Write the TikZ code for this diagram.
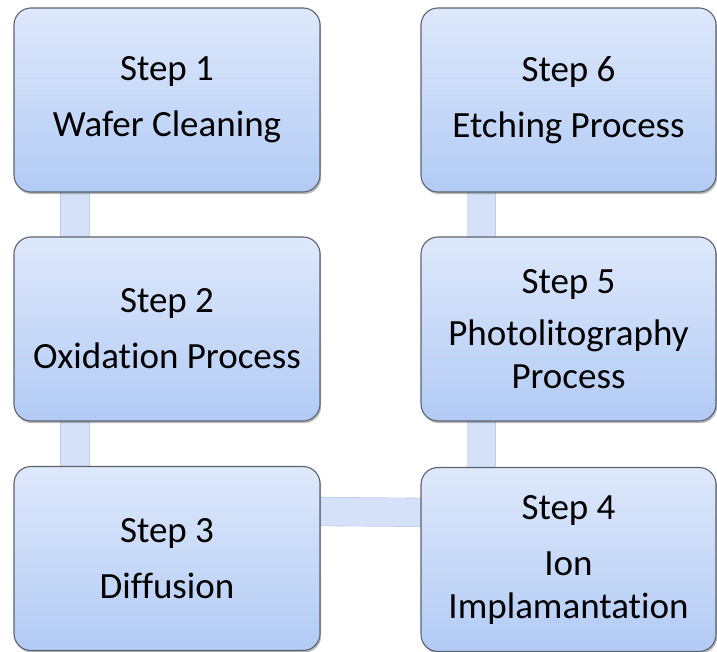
\documentclass[tikz,border=0pt]{standalone}
\usepackage{fontspec}
\setmainfont{Carlito}[Ligatures=NoCommon]
\usetikzlibrary{shadows,backgrounds}

\definecolor{boxtop}{HTML}{DEE8FB}
\definecolor{boxbot}{HTML}{B2CBF5}
\definecolor{boxline}{HTML}{5C636E}
\definecolor{linkfill}{HTML}{D5E1F8}
\definecolor{linkline}{HTML}{BCCBE6}

\tikzset{
  stepbox/.style={
    draw=boxline, line width=1.1pt, rounded corners=17pt,
    top color=boxtop, bottom color=boxbot,
    drop shadow={shadow xshift=1.2pt, shadow yshift=-2.2pt, opacity=0.45, fill=black!60},
    align=center, inner sep=0pt,
    font=\fontsize{37}{43}\selectfont
  },
  leftbox/.style={stepbox, minimum width=306pt, minimum height=184pt},
  rightbox/.style={stepbox, minimum width=295pt, minimum height=184pt},
  link/.style={draw=linkline, line width=0.6pt, double=linkfill, double distance=28pt}
}

\begin{document}
\begin{tikzpicture}[x=1pt, y=-1pt]
  \useasboundingbox (0,0) rectangle (717,652);

  % process steps, left column top to bottom, right column bottom to top
  \node[leftbox]  (s1) at (167,100)   {Step 1\\[13pt]Wafer Cleaning};
  \node[leftbox]  (s2) at (167,329)   {Step 2\\[13pt]Oxidation Process};
  \node[leftbox]  (s3) at (167,558.5) {Step 3\\[13pt]Diffusion};
  \node[rightbox] (s4) at (568.5,559.5) {Step 4\\[13pt]Ion\\Implamantation};
  \node[rightbox] (s5) at (568.5,329) {Step 5\\[9pt]Photolitography\\Process};
  \node[rightbox] (s6) at (568.5,100) {Step 6\\[13pt]Etching Process};

  % connecting bars behind the boxes
  \begin{pgfonlayer}{background}
    \draw[link] ([xshift=61.5pt,yshift=8pt]s1.south west) -- ([xshift=61.5pt,yshift=-8pt]s2.north west);
    \draw[link] ([xshift=61.5pt,yshift=8pt]s2.south west) -- ([xshift=61.5pt,yshift=-8pt]s3.north west);
    \draw[link] ([xshift=-8pt,yshift=-45.5pt]s3.north east) -- ([xshift=8pt,yshift=-45.5pt]s4.north west);
    \draw[link] ([xshift=61pt,yshift=-8pt]s4.north west) -- ([xshift=61pt,yshift=8pt]s5.south west);
    \draw[link] ([xshift=61pt,yshift=-8pt]s5.north west) -- ([xshift=61pt,yshift=8pt]s6.south west);
  \end{pgfonlayer}
\end{tikzpicture}
\end{document}
